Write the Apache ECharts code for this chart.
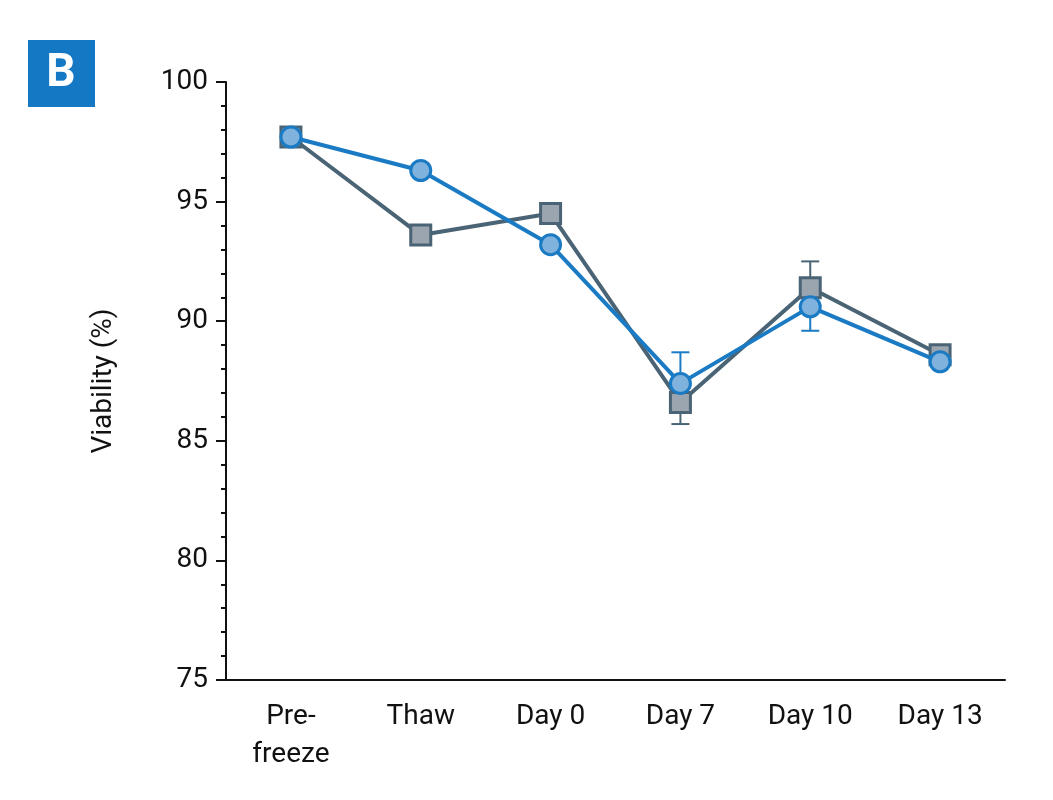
<!DOCTYPE html>
<html>
  <head>
    <meta charset="utf-8" />
    <title>Viability</title>
    <script src="https://cdn.jsdelivr.net/npm/echarts@6/dist/echarts.min.js"></script>
  </head>
  <body style="margin:0">
    <div id="container" style="width:1053px;height:800px;"></div>
    <script type="text/javascript">
    var categories = ['Pre-\nfreeze', 'Thaw', 'Day 0', 'Day 7', 'Day 10', 'Day 13'];
    var circleVals = [97.7, 96.3, 93.2, 87.4, 90.6, 88.3];
    var squareVals = [97.7, 93.6, 94.5, 86.6, 91.4, 88.6];
    // visible error bar ends (null = hidden behind marker)
    var circleErr = [null, null, null, 88.7, 89.6, null];
    var squareErr = [null, null, null, 85.7, 92.5, null];

    var blue = '#1a7bc4', slate = '#4a6475';

    function errSeries(vals, ends, color) {
        var data = [];
        vals.forEach(function (v, i) { if (ends[i] != null) data.push([i, v, ends[i]]); });
        return {
            type: 'custom', data: data, z: 1,
            renderItem: function (params, api) {
                var a = api.coord([api.value(0), api.value(1)]);
                var b = api.coord([api.value(0), api.value(2)]);
                var style = { stroke: color, lineWidth: 2 };
                return { type: 'group', children: [
                    { type: 'line', shape: { x1: a[0], y1: a[1], x2: b[0], y2: b[1] }, style: style },
                    { type: 'line', shape: { x1: b[0] - 9, y1: b[1], x2: b[0] + 9, y2: b[1] }, style: style }
                ]};
            }
        };
    }

    var myChart = echarts.init(document.getElementById('container'));
    var option = {
        animation: false,
        graphic: [
            { type: 'rect', shape: { x: 28, y: 40, width: 67, height: 67 }, style: { fill: '#1478c4' } },
            { type: 'text', x: 61, y: 74, style: { text: 'B', fill: '#fff', font: 'bold 46px Roboto', align: 'center', verticalAlign: 'middle' } }
        ],
        grid: { left: 226, right: 48, top: 82, bottom: 120 },
        xAxis: {
            type: 'category', data: categories,
            axisLine: { lineStyle: { color: '#111', width: 2 } },
            axisTick: { alignWithLabel: true, length: 10, lineStyle: { color: '#111', width: 2 } },
            axisLabel: { color: '#111', fontSize: 28, fontFamily: 'Roboto', margin: 18, lineHeight: 38 }
        },
        yAxis: {
            type: 'value', min: 75, max: 100, interval: 5,
            name: 'Viability (%)', nameLocation: 'middle', nameGap: 108,
            nameTextStyle: { color: '#111', fontSize: 28, fontFamily: 'Roboto' },
            splitLine: { show: false },
            axisLine: { show: true, lineStyle: { color: '#111', width: 2 } },
            axisTick: { show: true, length: 10, lineStyle: { color: '#111', width: 2 } },
            minorTick: { show: true, splitNumber: 5, length: 5, lineStyle: { color: '#111', width: 2 } },
            axisLabel: { color: '#111', fontSize: 28, fontFamily: 'Roboto', margin: 18 }
        },
        series: [
            errSeries(squareVals, squareErr, slate),
            errSeries(circleVals, circleErr, blue),
            {
                type: 'line', data: squareVals, symbol: 'rect', symbolSize: 20, z: 2,
                lineStyle: { color: slate, width: 4 },
                itemStyle: { color: '#9aa5b0', borderColor: slate, borderWidth: 3 }
            },
            {
                type: 'line', data: circleVals, symbol: 'circle', symbolSize: 20, z: 3,
                lineStyle: { color: blue, width: 4 },
                itemStyle: { color: '#7fb2dc', borderColor: blue, borderWidth: 3 }
            }
        ]
    };
    myChart.setOption(option);
    </script>
  </body>
</html>
